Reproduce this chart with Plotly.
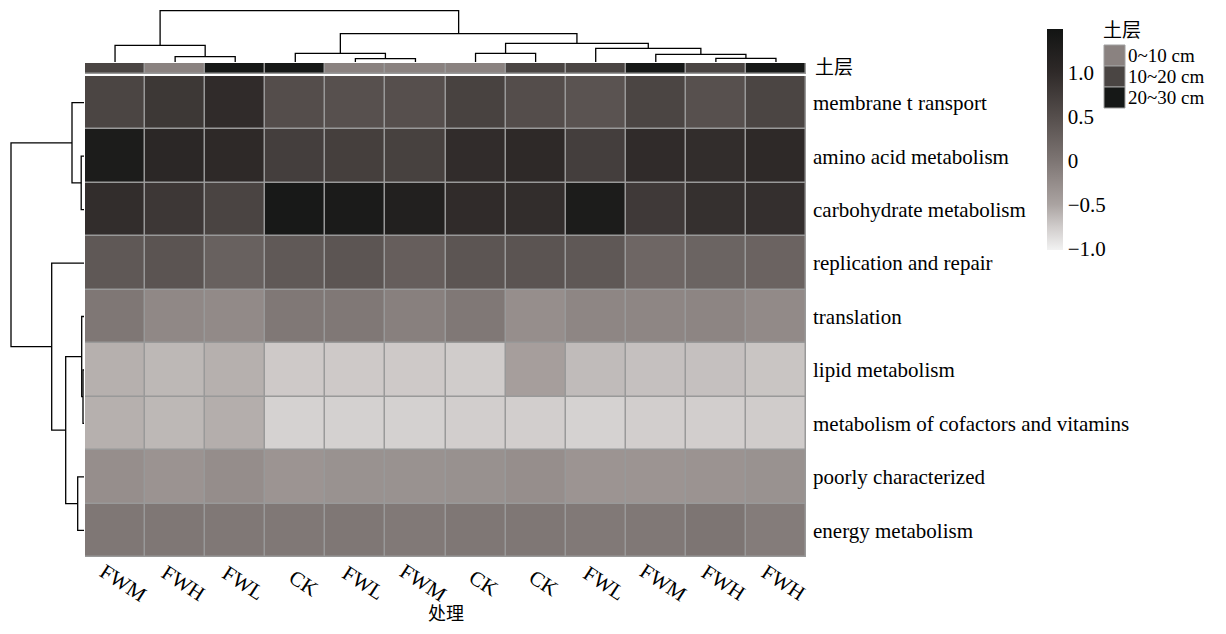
import plotly.graph_objects as go

# The page body has an 8px margin: figure is drawn 8px in from the window corner.
OFF = 8
W, H = 1226 - 2 * OFF, 634 - 2 * OFF

# ---------------- data ----------------
rows = ["membrane t ransport", "amino acid metabolism", "carbohydrate metabolism",
        "replication and repair", "translation", "lipid metabolism",
        "metabolism of cofactors and vitamins", "poorly characterized", "energy metabolism"]
columns = ["FWM", "FWH", "FWL", "CK", "FWL", "FWM", "CK", "CK", "FWL", "FWM", "FWH", "FWH"]
col_layer = ["10~20 cm", "0~10 cm", "20~30 cm", "20~30 cm", "0~10 cm", "0~10 cm",
             "0~10 cm", "10~20 cm", "10~20 cm", "20~30 cm", "10~20 cm", "20~30 cm"]
layers = ["0~10 cm", "10~20 cm", "20~30 cm"]
layer_colors = ["#8a8280", "#4a4543", "#161817"]

membrane = [0.63, 0.81, 0.99, 0.51, 0.47, 0.49, 0.67, 0.51, 0.44, 0.63, 0.47, 0.63]
amino = [1.32, 1.07, 1.02, 0.72, 0.71, 0.68, 0.97, 1.02, 0.72, 0.99, 0.96, 1.02]
carbo = [0.96, 0.82, 0.64, 1.39, 1.34, 1.23, 0.99, 0.96, 1.32, 0.79, 0.92, 0.93]
replic = [0.37, 0.42, 0.26, 0.36, 0.41, 0.29, 0.41, 0.42, 0.37, 0.19, 0.22, 0.23]
transl = [-0.02, -0.21, -0.23, -0.03, -0.03, -0.12, -0.03, -0.27, -0.19, -0.19, -0.17, -0.23]
lipid = [-0.58, -0.63, -0.58, -0.74, -0.74, -0.74, -0.76, -0.45, -0.65, -0.68, -0.68, -0.71]
cofact = [-0.58, -0.63, -0.57, -0.80, -0.79, -0.79, -0.77, -0.77, -0.80, -0.77, -0.77, -0.76]
poorly = [-0.27, -0.33, -0.26, -0.34, -0.31, -0.31, -0.30, -0.27, -0.34, -0.34, -0.33, -0.31]
energy = [-0.02, -0.02, -0.03, -0.03, -0.02, -0.04, -0.02, -0.02, -0.04, -0.03, 0.0, -0.08]

# dendrogram merges (scipy-like: index >= n refers to an earlier merge), heights
col_merges = [(10, 11, 3.7), (9, 12, 7.7), (8, 13, 13.7), (6, 7, 8.7), (15, 14, 18.7),
              (4, 5, 3.3), (3, 17, 8.7), (18, 16, 28.3), (1, 2, 5.3), (0, 20, 16.7),
              (21, 19, 51.3)]
row_merges = [(1, 2, 2.8), (0, 9, 12.0), (5, 6, 1.0), (4, 11, 2.3), (7, 8, 6.3),
              (12, 13, 18.3), (3, 14, 32.3), (10, 15, 73.0)]

cbar_ticks = [-1.0, -0.5, 0, 0.5, 1.0]
cbar_text = ["\u22121.0", "\u22120.5", "0", "0.5", "1.0"]
zmin, zmax = -1.02, 1.5

# --------------- helpers ---------------
def px(x):
    return (x - OFF) / W

def py(y):
    return 1 - (y - OFF) / H

def dendro(merges, n):
    pos = {i: float(i) for i in range(n)}
    hgt = {i: 0.0 for i in range(n)}
    P, Hh = [], []
    for k, (a, b, h) in enumerate(merges):
        P += [pos[a], pos[a], pos[b], pos[b], None]
        Hh += [hgt[a], h, h, hgt[b], None]
        pos[n + k] = (pos[a] + pos[b]) / 2
        hgt[n + k] = h
    return P, Hh

values = [membrane, amino, carbo, replic, transl, lipid, cofact, poorly, energy]

stops = [(-1.02, "#f2f2f2"), (-0.75, "#cfcbca"), (-0.5, "#aaa3a1"), (-0.25, "#948c8a"),
         (0.0, "#7d7573"), (0.5, "#554e4c"), (1.0, "#2f2a29"), (1.5, "#121413")]
colorscale = [[(v - zmin) / (zmax - zmin), c] for v, c in stops]

FONT = "Liberation Serif, 'Times New Roman', 'Noto Sans CJK SC', serif"
FS = 21

fig = go.Figure()

fig.add_trace(go.Heatmap(
    z=values, x=list(range(len(columns))), y=list(range(len(rows))),
    colorscale=colorscale, zmin=zmin, zmax=zmax, xgap=1.5, ygap=1.5,
    hoverinfo="skip",
    colorbar=dict(x=px(1047), xanchor="left", y=py(139.5), yanchor="middle",
                  len=221, lenmode="pixels", thickness=16, outlinewidth=0,
                  xpad=0, ypad=0, ticks="", tickvals=cbar_ticks, ticktext=cbar_text,
                  tickfont=dict(size=FS, color="black", family=FONT)),
    xaxis="x", yaxis="y"))

codes = [layers.index(l) for l in col_layer]
ann_cs = [[0, layer_colors[0]], [1/3, layer_colors[0]], [1/3, layer_colors[1]],
          [2/3, layer_colors[1]], [2/3, layer_colors[2]], [1, layer_colors[2]]]
fig.add_trace(go.Heatmap(z=[codes], x=list(range(len(columns))), y=[0],
                         colorscale=ann_cs, zmin=0, zmax=2, showscale=False,
                         xgap=1.5, ygap=1.5, hoverinfo="skip",
                         xaxis="x", yaxis="y2"))

cp, ch = dendro(col_merges, len(columns))
fig.add_trace(go.Scatter(x=cp, y=ch, mode="lines", line=dict(color="black", width=1.3),
                         hoverinfo="skip", showlegend=False, xaxis="x", yaxis="y3"))
rp, rh = dendro(row_merges, len(rows))
fig.add_trace(go.Scatter(x=rh, y=rp, mode="lines", line=dict(color="black", width=1.3),
                         hoverinfo="skip", showlegend=False, xaxis="x2", yaxis="y"))

hidden = dict(showgrid=False, zeroline=False, showticklabels=False, ticks="", showline=False)

fig.update_layout(
    width=W, height=H, margin=dict(l=0, r=0, t=0, b=0),
    paper_bgcolor="white", plot_bgcolor="white",
    font=dict(family=FONT, size=FS, color="black"),
    showlegend=False,
    xaxis=dict(domain=[px(85), px(806)], range=[-0.5, len(columns) - 0.5], anchor="y", **hidden),
    yaxis=dict(domain=[py(557), py(76)], range=[len(rows) - 0.5, -0.5], anchor="x",
               side="right", tickvals=list(range(len(rows))), ticktext=rows,
               showgrid=False, zeroline=False, ticks="", showline=False,
               ticklabelstandoff=6, tickfont=dict(size=FS, color="black", family=FONT)),
    yaxis2=dict(domain=[py(74), py(63)], range=[-0.5, 0.5], anchor="x", **hidden),
    yaxis3=dict(domain=[py(62), py(10)], range=[0, 52], anchor="x", **hidden),
    xaxis2=dict(domain=[px(10), px(84)], range=[74, 0], anchor="y", **hidden),
)

shapes = [
    dict(type="rect", xref="x", yref="y", x0=-0.5, x1=len(columns) - 0.5, y0=-0.5,
         y1=len(rows) - 0.5, fillcolor="#999999", line=dict(color="#999999", width=1.5),
         layer="below"),
    dict(type="rect", xref="x", yref="y2", x0=-0.5, x1=len(columns) - 0.5, y0=-0.5, y1=0.5,
         fillcolor="#999999", line=dict(color="#999999", width=1.5), layer="below"),
]
annotations = []
for i, lab in enumerate(columns):
    annotations.append(dict(x=i, xref="x", y=py(583), yref="paper", text=lab,
                            textangle=33, xshift=8, showarrow=False,
                            xanchor="center", yanchor="middle", font=dict(size=FS)))
annotations.append(dict(x=px(445.5), y=py(626), xref="paper", yref="paper", text="处理",
                        showarrow=False, xanchor="center", yanchor="bottom",
                        font=dict(size=18)))
annotations.append(dict(x=px(813), y=py(67), xref="paper", yref="paper", text="土层",
                        showarrow=False, xanchor="left", yanchor="middle",
                        font=dict(size=19)))
annotations.append(dict(x=px(1101), y=py(30), xref="paper", yref="paper", text="土层",
                        showarrow=False, xanchor="left", yanchor="middle",
                        font=dict(size=19)))
for i, (lab, col) in enumerate(zip(layers, layer_colors)):
    y0 = 45 + 21 * i
    shapes.append(dict(type="rect", xref="paper", yref="paper", x0=px(1104), x1=px(1125),
                       y0=py(y0 + 21), y1=py(y0), fillcolor=col,
                       line=dict(color="#a0a0a0", width=1)))
    annotations.append(dict(x=px(1127), y=py(y0 + 10.5), xref="paper", yref="paper",
                            text=lab, showarrow=False, xanchor="left", yanchor="middle",
                            font=dict(size=19), borderpad=0))

fig.update_layout(shapes=shapes, annotations=annotations)
fig.write_html("out.html")
